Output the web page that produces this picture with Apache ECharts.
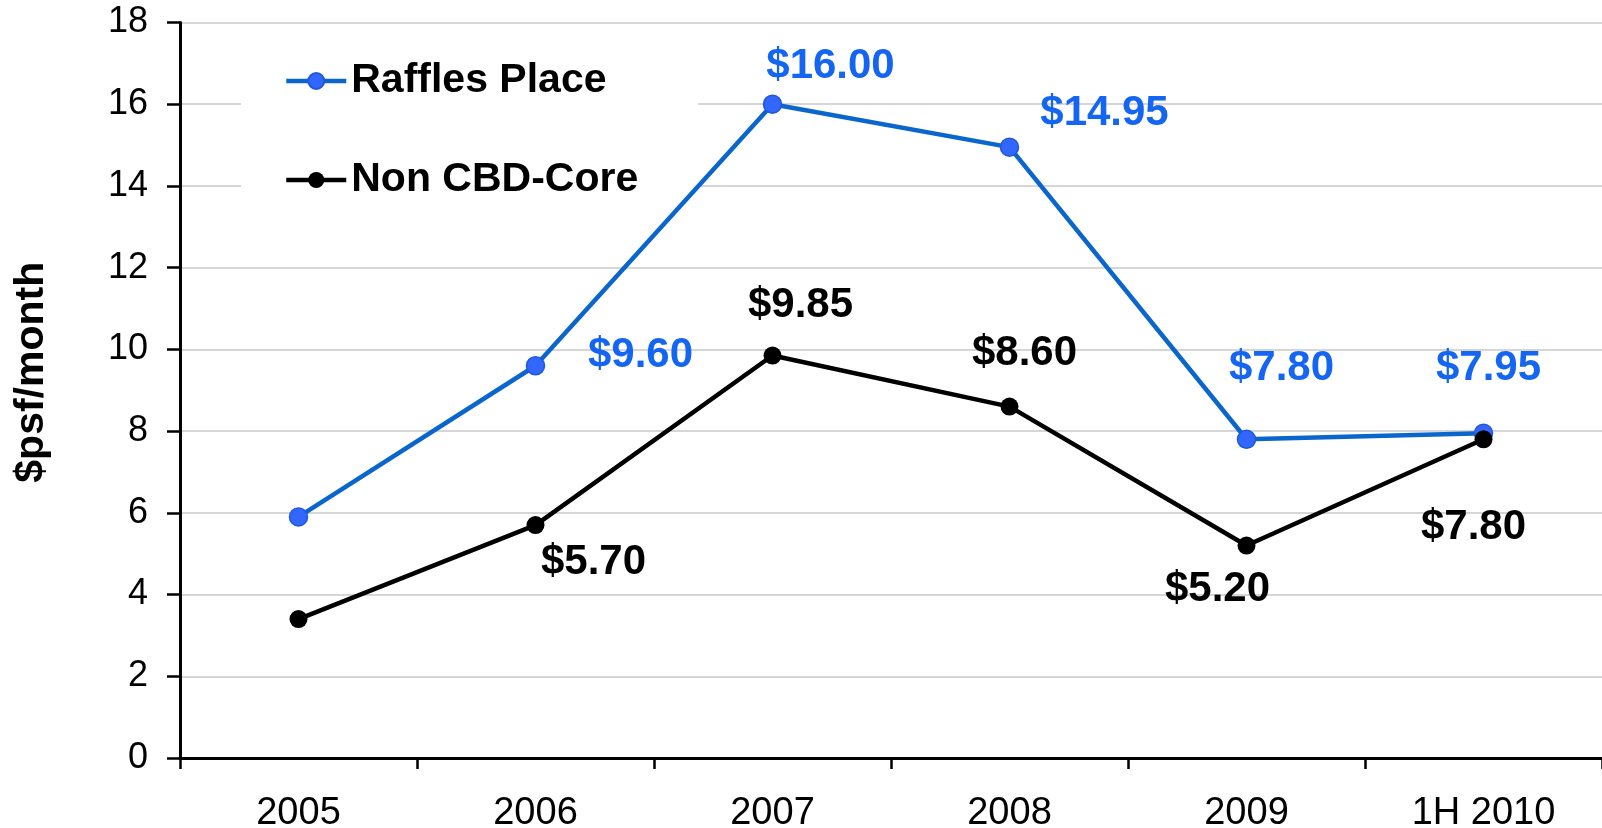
<!DOCTYPE html>
<html>
<head>
<meta charset="utf-8">
<script src="https://cdn.jsdelivr.net/npm/echarts@6/dist/echarts.min.js"></script>
<style>
html,body{margin:0;padding:0;background:#fff;}
#c{width:1602px;height:828px;}
</style>
</head>
<body>
<div id="c"></div>
<script>
var categories = ['2005', '2006', '2007', '2008', '2009', '1H 2010'];
var rafflesPlace = [5.9, 9.6, 16.0, 14.95, 7.8, 7.95];
var nonCBDCore = [3.4, 5.7, 9.85, 8.6, 5.2, 7.8];
var yTicks = {min: 0, max: 18, interval: 2};
// label offsets (style only), null = no label
var rafflesLabelOffsets = [null, [105, -10], [58, -38], [95, -34], [35, -71], [5, -65]];
var nonCBDLabelOffsets = [null, [58, 37], [28, -50], [15, -53], [-29, 44], [-10, 88]];

var FONT = '"Liberation Sans", Arial, Helvetica, sans-serif';
var BLUE_TEXT = '#1466f2';

function buildData(values, offsets, color) {
  return values.map(function (v, i) {
    var o = offsets[i];
    if (!o) return {value: v, label: {show: false}};
    return {
      value: v,
      label: {
        show: true,
        position: 'inside',
        offset: o,
        formatter: '$' + v.toFixed(2),
        color: color,
        fontFamily: FONT,
        fontWeight: 'bold',
        fontSize: 42,
        align: 'center',
        verticalAlign: 'middle'
      }
    };
  });
}

var chart = echarts.init(document.getElementById('c'), null, {renderer: 'canvas'});
chart.setOption({
  animation: false,
  backgroundColor: '#ffffff',
  grid: {left: 180, right: 0, top: 22.5, bottom: 70, containLabel: false, outerBoundsMode: 'none'},
  legend: {
    orient: 'vertical',
    left: 241,
    top: 40,
    z: 2,
    padding: [20, 60, 22, 43],
    backgroundColor: '#ffffff',
    itemWidth: 60,
    itemHeight: 20,
    itemGap: 57,
    lineStyle: {width: 4.5},
    textStyle: {fontFamily: FONT, fontWeight: 'bold', fontSize: 41, color: '#000', lineHeight: 42},
    data: ['Raffles Place', 'Non CBD-Core']
  },
  xAxis: {
    type: 'category',
    data: categories,
    boundaryGap: true,
    axisLine: {show: true, lineStyle: {color: '#000', width: 3}},
    axisTick: {show: true, inside: false, length: 11, lineStyle: {color: '#000', width: 2.5}},
    axisLabel: {fontFamily: FONT, fontSize: 38, color: '#000', margin: 37},
    splitLine: {show: false}
  },
  yAxis: {
    type: 'value',
    min: yTicks.min,
    max: yTicks.max,
    interval: yTicks.interval,
    name: '$psf/month',
    nameLocation: 'middle',
    nameRotate: 90,
    nameGap: 128,
    nameTextStyle: {fontFamily: FONT, fontWeight: 'bold', fontSize: 41, color: '#000', padding: [0, 0, 0, 36]},
    axisLine: {show: true, lineStyle: {color: '#000', width: 3}},
    axisTick: {show: true, inside: false, length: 13, lineStyle: {color: '#000', width: 2.5}},
    axisLabel: {fontFamily: FONT, fontSize: 36, color: '#000', margin: 32},
    splitLine: {show: true, lineStyle: {color: '#c8c8c8', width: 1.5}}
  },
  series: [
    {
      name: 'Raffles Place',
      type: 'line',
      data: buildData(rafflesPlace, rafflesLabelOffsets, BLUE_TEXT),
      symbol: 'circle',
      symbolSize: 18,
      clip: false,
      z: 3,
      lineStyle: {color: '#0a66cc', width: 4.5},
      itemStyle: {color: '#3366ff', borderColor: '#1f5ad6', borderWidth: 1.5}
    },
    {
      name: 'Non CBD-Core',
      type: 'line',
      data: buildData(nonCBDCore, nonCBDLabelOffsets, '#000'),
      symbol: 'circle',
      symbolSize: 18,
      clip: false,
      z: 4,
      lineStyle: {color: '#000', width: 4.5},
      itemStyle: {color: '#000', borderColor: '#000', borderWidth: 0}
    }
  ]
});
</script>
</body>
</html>
